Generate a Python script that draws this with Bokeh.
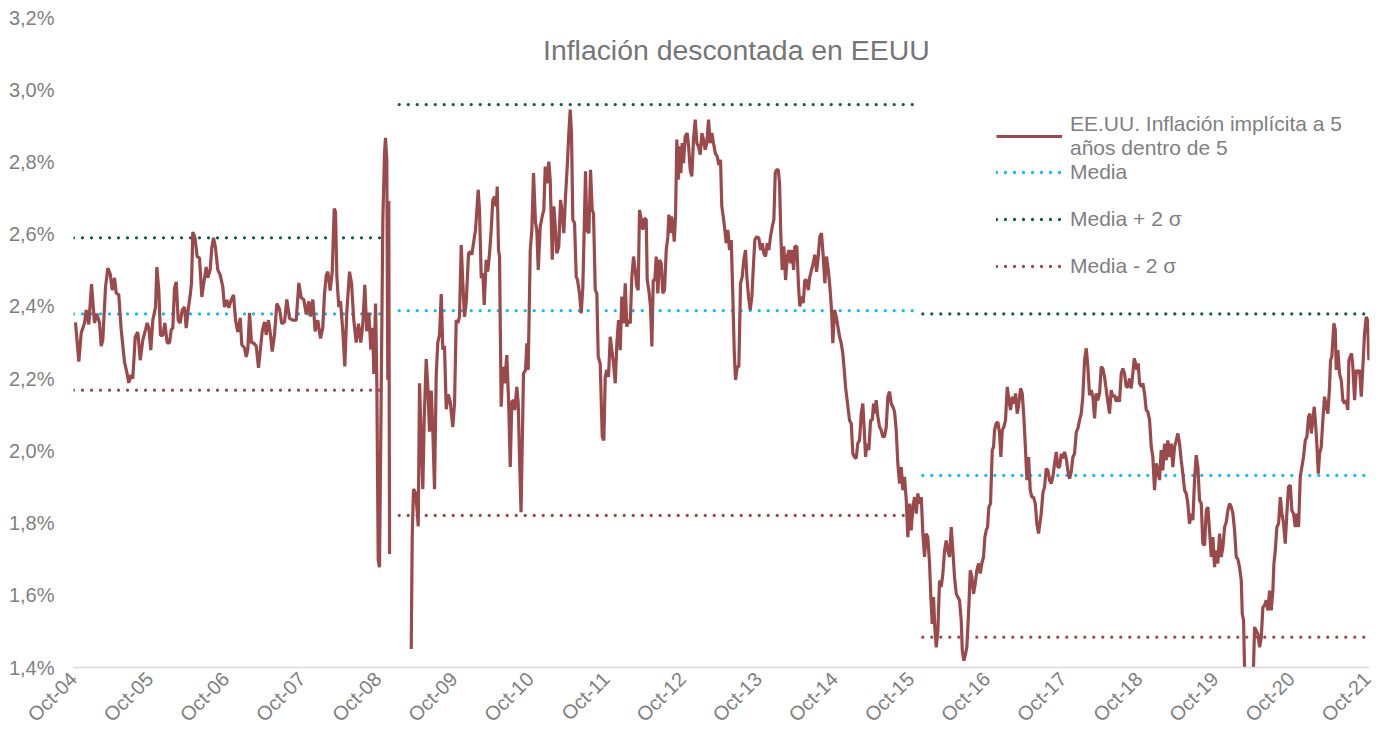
import math
from bokeh.plotting import figure
from bokeh.models import (FixedTicker, CustomJSTickFormatter, Legend, LegendItem,
                          Label, Range1d)
from bokeh.embed import file_html
from bokeh.resources import INLINE

nan = float("nan")

# ---------------- data (decimal years, % values) ----------------
fecha = [
    2004.776, 2004.820, 2004.851, 2004.895, 2004.917, 2004.951, 2004.987, 2005.026, 2005.056, 2005.092,
    2005.114, 2005.135, 2005.171, 2005.201, 2005.232, 2005.259, 2005.289, 2005.311, 2005.345, 2005.377,
    2005.420, 2005.450, 2005.477, 2005.503, 2005.529, 2005.561, 2005.595, 2005.627, 2005.661, 2005.696,
    2005.718, 2005.740, 2005.766, 2005.792, 2005.828, 2005.845, 2005.871, 2005.893, 2005.924, 2005.950,
    2005.981, 2006.012, 2006.034, 2006.055, 2006.077, 2006.100, 2006.126, 2006.152, 2006.178, 2006.209,
    2006.231, 2006.257, 2006.284, 2006.301, 2006.318, 2006.344, 2006.376, 2006.406, 2006.436, 2006.468,
    2006.494, 2006.515, 2006.546, 2006.567, 2006.590, 2006.616, 2006.646, 2006.678, 2006.712, 2006.734,
    2006.765, 2006.791, 2006.822, 2006.853, 2006.879, 2006.909, 2006.941, 2006.962, 2006.997, 2007.019,
    2007.040, 2007.063, 2007.089, 2007.115, 2007.151, 2007.181,
    2007.230, 2007.260, 2007.282, 2007.312, 2007.339, 2007.361, 2007.391, 2007.422, 2007.457, 2007.487,
    2007.523, 2007.553, 2007.588, 2007.632, 2007.677, 2007.711, 2007.742, 2007.776, 2007.808, 2007.842,
    2007.864, 2007.895, 2007.926, 2007.960, 2007.996, 2008.026, 2008.048, 2008.071, 2008.092, 2008.123,
    2008.150, 2008.176, 2008.193, 2008.210, 2008.236, 2008.259, 2008.289, 2008.315, 2008.341, 2008.377,
    2008.403, 2008.433, 2008.465, 2008.495, 2008.525, 2008.552, 2008.578, 2008.604, 2008.631, 2008.657,
    2008.683, 2008.696, 2008.719, 2008.736, 2008.754, 2008.771, 2008.794, 2008.815, 2008.837, 2008.850,
    2008.867, 2008.880, 2008.893, 2008.903, 2009.050,
    2009.188, 2009.201, 2009.218, 2009.244, 2009.261, 2009.280, 2009.297, 2009.319, 2009.340, 2009.359,
    2009.385, 2009.406, 2009.428, 2009.451, 2009.472, 2009.494, 2009.516, 2009.537, 2009.560, 2009.582,
    2009.603, 2009.625, 2009.648, 2009.674, 2009.700,
    2009.734, 2009.757, 2009.779, 2009.800, 2009.822, 2009.845, 2009.866, 2009.888, 2009.910, 2009.941,
    2009.963, 2009.984, 2010.006, 2010.033, 2010.068, 2010.085, 2010.108, 2010.129, 2010.147, 2010.173,
    2010.194, 2010.217, 2010.239, 2010.260, 2010.282, 2010.305, 2010.318, 2010.335, 2010.348, 2010.370,
    2010.391, 2010.414, 2010.444, 2010.470, 2010.489, 2010.510, 2010.532, 2010.549, 2010.575, 2010.594,
    2010.611, 2010.631, 2010.663, 2010.690, 2010.707, 2010.725, 2010.752, 2010.773, 2010.795, 2010.821,
    2010.838, 2010.857, 2010.883, 2010.909, 2010.930, 2010.949, 2010.970, 2010.996, 2011.014, 2011.041,
    2011.062, 2011.084, 2011.101, 2011.127, 2011.150, 2011.172, 2011.193, 2011.215, 2011.238, 2011.259,
    2011.277, 2011.294, 2011.311, 2011.334, 2011.356, 2011.373, 2011.399, 2011.422, 2011.443, 2011.461,
    2011.478, 2011.495, 2011.522, 2011.544, 2011.566, 2011.583, 2011.606, 2011.627, 2011.645, 2011.671,
    2011.698, 2011.719, 2011.737, 2011.758, 2011.780, 2011.803, 2011.824, 2011.846, 2011.869, 2011.890,
    2011.912, 2011.934, 2011.955, 2011.978, 2012.000, 2012.021, 2012.043, 2012.066, 2012.087, 2012.109,
    2012.131, 2012.152, 2012.170,
    2012.188, 2012.210, 2012.231, 2012.253, 2012.276, 2012.289, 2012.310, 2012.332, 2012.350, 2012.368,
    2012.389, 2012.407, 2012.428, 2012.451, 2012.473, 2012.494, 2012.516, 2012.539, 2012.560, 2012.573,
    2012.591, 2012.608, 2012.626, 2012.644, 2012.661, 2012.678, 2012.697, 2012.714, 2012.731, 2012.749,
    2012.766, 2012.788, 2012.815, 2012.836, 2012.854, 2012.875, 2012.897, 2012.920, 2012.941, 2012.963,
    2012.986, 2013.007, 2013.029, 2013.051, 2013.072, 2013.095, 2013.117, 2013.138, 2013.160, 2013.183,
    2013.209, 2013.230, 2013.252, 2013.269, 2013.288, 2013.309, 2013.327, 2013.348, 2013.371, 2013.393,
    2013.414, 2013.432, 2013.449, 2013.472, 2013.493, 2013.515, 2013.537, 2013.558, 2013.581, 2013.598,
    2013.620, 2013.643, 2013.664, 2013.686, 2013.703, 2013.729, 2013.756, 2013.778, 2013.800, 2013.821,
    2013.844, 2013.866, 2013.887, 2013.909, 2013.932, 2013.953, 2013.971, 2013.988, 2014.011, 2014.028,
    2014.045, 2014.063, 2014.084, 2014.107, 2014.129, 2014.150, 2014.172, 2014.195, 2014.212, 2014.229,
    2014.255, 2014.277, 2014.295, 2014.317, 2014.339, 2014.360, 2014.382, 2014.405, 2014.426, 2014.448,
    2014.470, 2014.491, 2014.514, 2014.536, 2014.557, 2014.579, 2014.602, 2014.623, 2014.645, 2014.668,
    2014.689, 2014.711, 2014.728, 2014.750, 2014.773, 2014.794, 2014.816, 2014.838, 2014.859, 2014.882,
    2014.895,
    2014.947, 2014.970, 2014.991, 2015.013, 2015.035, 2015.056, 2015.079, 2015.101, 2015.122, 2015.141,
    2015.158, 2015.175, 2015.201, 2015.224, 2015.246, 2015.263, 2015.280, 2015.298, 2015.320, 2015.342,
    2015.364, 2015.385, 2015.407, 2015.430, 2015.451, 2015.473, 2015.495, 2015.517, 2015.539, 2015.561,
    2015.582, 2015.605, 2015.627, 2015.648, 2015.670, 2015.693, 2015.714, 2015.736, 2015.758, 2015.779,
    2015.802, 2015.824, 2015.845, 2015.867, 2015.890, 2015.911, 2015.933, 2015.955, 2015.976, 2015.999,
    2016.016, 2016.034, 2016.051, 2016.068, 2016.087, 2016.108, 2016.130, 2016.152, 2016.174, 2016.196,
    2016.218, 2016.239, 2016.262, 2016.284, 2016.305, 2016.327, 2016.350, 2016.371, 2016.393, 2016.415,
    2016.429, 2016.450, 2016.472, 2016.489, 2016.515, 2016.534, 2016.555, 2016.577, 2016.599, 2016.620,
    2016.643, 2016.665, 2016.686, 2016.708, 2016.726, 2016.744, 2016.761, 2016.778, 2016.800, 2016.823,
    2016.840, 2016.853, 2016.875, 2016.896, 2016.919, 2016.936, 2016.954, 2016.975, 2016.997, 2017.020,
    2017.041, 2017.063, 2017.085, 2017.107, 2017.129, 2017.151, 2017.172, 2017.195, 2017.217, 2017.238,
    2017.260, 2017.278, 2017.300, 2017.322, 2017.343, 2017.365, 2017.388, 2017.409, 2017.431,
    2017.466, 2017.488, 2017.510, 2017.532, 2017.553, 2017.576, 2017.598, 2017.619, 2017.642, 2017.664,
    2017.685, 2017.707, 2017.730, 2017.751, 2017.773, 2017.795, 2017.816, 2017.838, 2017.861, 2017.882,
    2017.904, 2017.927, 2017.948, 2017.970, 2017.992, 2018.013, 2018.036, 2018.058, 2018.079, 2018.101,
    2018.124, 2018.145, 2018.167, 2018.189, 2018.210, 2018.233, 2018.255, 2018.276, 2018.298, 2018.321,
    2018.342, 2018.364, 2018.386, 2018.407, 2018.430, 2018.452, 2018.473, 2018.495, 2018.518, 2018.539,
    2018.561, 2018.583, 2018.604, 2018.627, 2018.649, 2018.670, 2018.689, 2018.706, 2018.723, 2018.741,
    2018.758, 2018.781, 2018.802, 2018.824, 2018.846, 2018.868, 2018.890, 2018.912, 2018.933, 2018.955,
    2018.978, 2018.999, 2019.021, 2019.043, 2019.064, 2019.087, 2019.109, 2019.130, 2019.153, 2019.175,
    2019.196, 2019.218, 2019.240, 2019.262, 2019.284, 2019.306, 2019.327, 2019.350, 2019.372, 2019.393,
    2019.415, 2019.438, 2019.459, 2019.481, 2019.503, 2019.525, 2019.547, 2019.569, 2019.590, 2019.613,
    2019.635, 2019.656, 2019.678, 2019.701, 2019.722, 2019.744, 2019.766, 2019.787, 2019.810, 2019.832,
    2019.853, 2019.876, 2019.898, 2019.919,
    2019.941, 2019.964, 2019.985, 2020.007, 2020.029, 2020.050, 2020.072, 2020.095, 2020.108, 2020.125,
    2020.138, 2020.164, 2020.204, 2020.237, 2020.257, 2020.270, 2020.292, 2020.313, 2020.336, 2020.358,
    2020.379, 2020.401, 2020.423, 2020.445, 2020.467, 2020.489, 2020.510, 2020.524, 2020.542, 2020.563,
    2020.585, 2020.608, 2020.629, 2020.651, 2020.673, 2020.694, 2020.716, 2020.739, 2020.760, 2020.782,
    2020.804, 2020.825, 2020.848, 2020.870, 2020.891, 2020.913, 2020.936, 2020.957, 2020.979, 2020.996,
    2021.015, 2021.036, 2021.054, 2021.071, 2021.088, 2021.107, 2021.124, 2021.146, 2021.167, 2021.189,
    2021.212, 2021.233, 2021.255, 2021.268, 2021.285, 2021.299, 2021.312, 2021.330, 2021.343, 2021.364,
    2021.386, 2021.409, 2021.430, 2021.452, 2021.474, 2021.495, 2021.509, 2021.527, 2021.544, 2021.561,
    2021.584, 2021.606, 2021.627, 2021.650, 2021.672, 2021.693, 2021.715, 2021.737, 2021.754, 2021.772,
]

inflacion = [
    2.356, 2.247, 2.326, 2.354, 2.39, 2.35, 2.462, 2.354, 2.38, 2.354,
    2.29, 2.307, 2.454, 2.506, 2.49, 2.445, 2.479, 2.437, 2.432, 2.335,
    2.246, 2.218, 2.188, 2.21, 2.20, 2.315, 2.329, 2.251, 2.307, 2.335,
    2.354, 2.34, 2.279, 2.362, 2.398, 2.509, 2.445, 2.32, 2.32, 2.354,
    2.299, 2.299, 2.335, 2.34, 2.45, 2.468, 2.362, 2.354, 2.39, 2.398,
    2.34, 2.39, 2.432, 2.465, 2.606, 2.592, 2.537, 2.534, 2.426, 2.473,
    2.509, 2.479, 2.501, 2.562, 2.59, 2.562, 2.501, 2.487, 2.454, 2.398,
    2.418, 2.396, 2.418, 2.432, 2.362, 2.329, 2.368, 2.293, 2.285, 2.26,
    2.279, 2.382, 2.299, 2.299, 2.29, 2.23,
    2.331, 2.357, 2.321, 2.362, 2.321, 2.275, 2.321, 2.408, 2.393, 2.352,
    2.357, 2.419, 2.367, 2.362, 2.362, 2.465, 2.424, 2.419, 2.378, 2.414,
    2.372, 2.419, 2.331, 2.362, 2.311, 2.341, 2.434, 2.486, 2.496, 2.444,
    2.496, 2.671, 2.661, 2.486, 2.398, 2.414, 2.331, 2.234, 2.383, 2.496,
    2.465, 2.362, 2.30, 2.352, 2.30, 2.352, 2.46, 2.331, 2.383, 2.28,
    2.341, 2.213, 2.408, 2.187, 1.698, 1.678, 2.177, 2.64, 2.825, 2.867,
    2.805, 2.197, 2.692, 1.714, nan,
    1.451, 1.765, 1.894, 1.884, 1.847, 1.791, 2.187, 2.032, 1.894, 2.093,
    2.254, 2.177, 2.053, 2.167, 2.053, 1.894, 2.208, 2.30, 2.321, 2.434,
    2.28, 2.29, 2.115, 2.156, 2.136,
    2.066, 2.132, 2.362, 2.354, 2.371, 2.57, 2.465, 2.371, 2.409, 2.547,
    2.552, 2.543, 2.575, 2.612, 2.723, 2.667, 2.478, 2.492, 2.404, 2.529,
    2.496, 2.547, 2.612, 2.695, 2.704, 2.677, 2.732, 2.556, 2.538, 2.122,
    2.233, 2.187, 2.265, 2.122, 1.955, 2.136, 2.14, 2.113, 2.177, 2.131,
    1.983, 1.83, 2.214, 2.224, 2.298, 2.224, 2.556, 2.612, 2.769, 2.631,
    2.612, 2.501, 2.621, 2.649, 2.667, 2.787, 2.741, 2.801, 2.751, 2.529,
    2.677, 2.612, 2.547, 2.566, 2.695, 2.658, 2.603, 2.704, 2.787, 2.88,
    2.945, 2.88, 2.64, 2.631, 2.482, 2.473, 2.436, 2.381, 2.455, 2.612,
    2.774, 2.612, 2.603, 2.778, 2.667, 2.658, 2.445, 2.436, 2.261, 2.242,
    2.039, 2.029, 2.205, 2.224, 2.205, 2.316, 2.279, 2.242, 2.187, 2.298,
    2.362, 2.279, 2.427, 2.353, 2.464, 2.344, 2.362, 2.353, 2.482, 2.538,
    2.501, 2.455, 2.445,
    2.667, 2.64, 2.612, 2.644, 2.64, 2.473, 2.445, 2.40, 2.289, 2.473,
    2.473, 2.538, 2.436, 2.529, 2.519, 2.436, 2.445, 2.556, 2.593, 2.654,
    2.603, 2.649, 2.631, 2.579, 2.649, 2.862, 2.751, 2.843, 2.769, 2.852,
    2.797, 2.871, 2.88, 2.834, 2.778, 2.76, 2.862, 2.917, 2.852, 2.843,
    2.82, 2.88, 2.862, 2.834, 2.852, 2.917, 2.852, 2.88, 2.852, 2.825,
    2.815, 2.792, 2.806, 2.677, 2.649, 2.612, 2.575, 2.612, 2.556, 2.584,
    2.427, 2.279, 2.196, 2.233, 2.233, 2.464, 2.482, 2.529, 2.556, 2.482,
    2.427, 2.39, 2.427, 2.519, 2.584, 2.593, 2.589, 2.556, 2.575, 2.547,
    2.538, 2.575, 2.556, 2.593, 2.621, 2.64, 2.769, 2.778, 2.778, 2.741,
    2.593, 2.501, 2.566, 2.473, 2.538, 2.556, 2.519, 2.556, 2.501, 2.566,
    2.566, 2.455, 2.40, 2.427, 2.409, 2.473, 2.473, 2.445, 2.482, 2.501,
    2.519, 2.543, 2.496, 2.538, 2.593, 2.603, 2.538, 2.464, 2.538, 2.501,
    2.455, 2.39, 2.298, 2.39, 2.371, 2.344, 2.316, 2.298, 2.27, 2.214,
    2.177,
    2.085, 2.076, 1.992, 1.983, 1.979, 2.02, 2.029, 2.103, 2.131, 2.057,
    1.983, 2.02, 2.002, 2.085, 2.085, 2.131, 2.103, 2.14, 2.094, 2.066,
    2.057, 2.039, 2.039, 2.066, 2.15, 2.164, 2.131, 2.122, 2.108, 2.057,
    1.965, 1.909, 1.955, 1.891, 1.928, 1.863, 1.761, 1.854, 1.78, 1.844,
    1.872, 1.826, 1.882, 1.854, 1.872, 1.771, 1.706, 1.771, 1.761, 1.688,
    1.595, 1.521, 1.595, 1.512, 1.456, 1.502, 1.641, 1.623, 1.66, 1.724,
    1.752, 1.724, 1.706, 1.789, 1.724, 1.65, 1.604, 1.595, 1.586, 1.53,
    1.447, 1.419, 1.438, 1.456, 1.567, 1.669, 1.65, 1.604, 1.632, 1.669,
    1.688, 1.66, 1.688, 1.706, 1.761, 1.78, 1.789, 1.844, 1.854, 2.002,
    2.011, 2.057, 2.076, 2.08, 2.048, 1.983, 2.057, 2.066, 2.085, 2.177,
    2.14, 2.113, 2.15, 2.131, 2.159, 2.103, 2.131, 2.173, 2.159, 2.094,
    2.002, 1.919, 1.983, 1.891, 1.872, 1.872, 1.854, 1.798, 1.771,
    1.826, 1.882, 1.90, 1.951, 1.946, 1.919, 1.909, 1.928, 1.965, 1.997,
    1.955, 1.955, 1.992, 1.979, 1.997, 1.979, 1.946, 1.923, 1.942, 1.983,
    1.992, 2.052, 2.062, 2.085, 2.103, 2.15, 2.251, 2.284, 2.233, 2.154,
    2.168, 2.15, 2.09, 2.159, 2.14, 2.159, 2.233, 2.228, 2.205, 2.168,
    2.136, 2.103, 2.168, 2.15, 2.154, 2.136, 2.15, 2.136, 2.214, 2.228,
    2.214, 2.177, 2.177, 2.20, 2.173, 2.214, 2.256, 2.242, 2.224, 2.242,
    2.187, 2.177, 2.187, 2.159, 2.113, 2.108, 2.085, 2.011, 1.983, 1.891,
    1.965, 1.946, 1.919, 2.002, 1.946, 2.02, 1.974, 2.029, 1.983, 2.02,
    1.955, 2.011, 2.029, 2.048, 2.02, 1.974, 1.937, 1.891, 1.882, 1.854,
    1.798, 1.826, 1.808, 1.919, 1.988, 1.955, 1.863, 1.854, 1.743, 1.738,
    1.835, 1.844, 1.78, 1.706, 1.761, 1.678, 1.724, 1.688, 1.771, 1.706,
    1.733, 1.789, 1.803, 1.835,
    1.854, 1.844, 1.826, 1.78, 1.706, 1.70, 1.678, 1.641, 1.549, 1.53,
    1.40, 1.30, 1.25, 1.33, 1.41, 1.512, 1.502, 1.493, 1.456, 1.484,
    1.567, 1.572, 1.586, 1.558, 1.613, 1.558, 1.613, 1.688, 1.724, 1.789,
    1.798, 1.872, 1.826, 1.798, 1.743, 1.826, 1.90, 1.905, 1.835, 1.826,
    1.789, 1.826, 1.789, 1.928, 1.955, 1.983, 2.029, 2.039, 2.094, 2.103,
    2.048, 2.085, 2.122, 2.076, 2.02, 1.937, 1.992, 2.011, 2.085, 2.15,
    2.122, 2.103, 2.177, 2.251, 2.261, 2.307, 2.353, 2.335, 2.224, 2.279,
    2.214, 2.195, 2.14, 2.131, 2.14, 2.113, 2.251, 2.261, 2.27, 2.233,
    2.14, 2.224, 2.214, 2.224, 2.15, 2.233, 2.325, 2.371, 2.362, 2.251,
]
assert len(fecha) == len(inflacion), (len(fecha), len(inflacion))

# reference bands by period
periodo_inicio = [2004.75, 2009.03, 2015.91]
periodo_fin = [2008.88, 2015.84, 2021.75]
media = [2.379, 2.388, 1.932]
media_mas_2s = [2.590, 2.959, 2.379]
media_menos_2s = [2.168, 1.821, 1.484]

# axis ticks
x_ticks = [2004.75 + i for i in range(18)]
x_labels = ["Oct-04", "Oct-05", "Oct-06", "Oct-07", "Oct-08", "Oct-09", "Oct-10", "Oct-11", "Oct-12",
            "Oct-13", "Oct-14", "Oct-15", "Oct-16", "Oct-17", "Oct-18", "Oct-19", "Oct-20", "Oct-21"]
y_ticks = [1.4, 1.6, 1.8, 2.0, 2.2, 2.4, 2.6, 2.8, 3.0, 3.2]

# ---------------- styling ----------------
FONT = "Liberation Sans"
GRAY = "#7f7f7f"
C_LINE = "#9b4a4c"
C_MEDIA = "#12bdf2"
C_MAS = "#0f5c50"
C_MENOS = "#9b4a4c"

Y0, Y1 = 1.4, 3.2
p = figure(width=1382, height=736, output_backend="svg", toolbar_location=None,
           x_range=Range1d(2004.75, 2021.78), y_range=Range1d(Y0, Y1),
           min_border_left=73, min_border_right=13, min_border_top=17, min_border_bottom=69)
p.outline_line_color = None
p.grid.visible = False
p.background_fill_color = "white"
p.border_fill_color = "white"

# x axis
p.xaxis.ticker = FixedTicker(ticks=x_ticks)
p.xaxis.major_label_overrides = {t: l for t, l in zip(x_ticks, x_labels)}
p.xaxis.major_label_orientation = math.pi / 4
p.xaxis.axis_line_color = "#d9d9d9"
p.xaxis.axis_line_width = 1.5
p.xaxis.major_tick_line_color = None
p.xaxis.minor_tick_line_color = None
p.xaxis.major_tick_out = 0
p.xaxis.major_tick_in = 0
p.xaxis.major_label_standoff = 8
p.xaxis.major_label_text_font = FONT
p.xaxis.major_label_text_font_size = "20px"
p.xaxis.major_label_text_color = GRAY

# y axis
p.yaxis.ticker = FixedTicker(ticks=y_ticks)
p.yaxis.formatter = CustomJSTickFormatter(code="return tick.toFixed(1).replace('.', ',') + '%';")
p.yaxis.axis_line_color = None
p.yaxis.major_tick_line_color = None
p.yaxis.minor_tick_line_color = None
p.yaxis.major_tick_out = 0
p.yaxis.major_tick_in = 0
p.yaxis.major_label_standoff = 19
p.yaxis.major_label_text_font = FONT
p.yaxis.major_label_text_font_size = "20px"
p.yaxis.major_label_text_color = GRAY

# bands
dot = dict(line_width=3.3, line_dash="0 9", line_cap="round")
r_mas = p.segment(x0=periodo_inicio, y0=media_mas_2s, x1=periodo_fin, y1=media_mas_2s,
                  line_color=C_MAS, **dot)
r_menos = p.segment(x0=periodo_inicio, y0=media_menos_2s, x1=periodo_fin, y1=media_menos_2s,
                    line_color=C_MENOS, **dot)
r_media = p.segment(x0=periodo_inicio, y0=media, x1=periodo_fin, y1=media,
                    line_color=C_MEDIA, **dot)

# main series
r_line = p.line(fecha, inflacion, line_color=C_LINE, line_width=3.2)

# legends
common = dict(border_line_color=None, background_fill_alpha=0, padding=0, margin=0,
              label_standoff=8, glyph_width=66, label_text_font=FONT,
              label_text_font_size="21px", label_text_color=GRAY)
leg1 = Legend(items=[LegendItem(label="EE.UU. Inflación implícita a 5\naños dentro de 5",
                                renderers=[r_line])],
              location=(923, 507), glyph_height=24, label_height=24, **common)
leg2 = Legend(items=[LegendItem(label="Media", renderers=[r_media]),
                     LegendItem(label="Media + 2 σ", renderers=[r_mas]),
                     LegendItem(label="Media - 2 σ", renderers=[r_menos])],
              location=(923, 389), spacing=23, glyph_height=24, label_height=24, **common)
p.add_layout(leg1)
p.add_layout(leg2)

# title inside the plot area
p.add_layout(Label(x=2013.46, y=3.111, text="Inflación descontada en EEUU",
                   text_font=FONT, text_font_size="28.4px", text_color="#767676",
                   text_align="center", text_baseline="middle"))

# partially visible top legend (cropped in the original)
y_txt = 3.233
y_box = 3.249
p.add_layout(Label(x=2009.53, y=y_box, text="■", text_font="DejaVu Sans", text_font_size="28px",
                   text_color="#40c8f0", text_baseline="alphabetic"))
p.add_layout(Label(x=2009.99, y=y_txt, text="Posición actual", text_font=FONT,
                   text_font_size="20px", text_color=GRAY, text_baseline="alphabetic"))
p.add_layout(Label(x=2012.31, y=y_box, text="■", text_font="DejaVu Sans", text_font_size="28px",
                   text_color="#a6a6a6", text_baseline="alphabetic"))
p.add_layout(Label(x=2012.75, y=y_txt, text="Posición anterior", text_font=FONT,
                   text_font_size="20px", text_color=GRAY, text_baseline="alphabetic"))

open("out.html", "w").write(file_html(p, INLINE))
